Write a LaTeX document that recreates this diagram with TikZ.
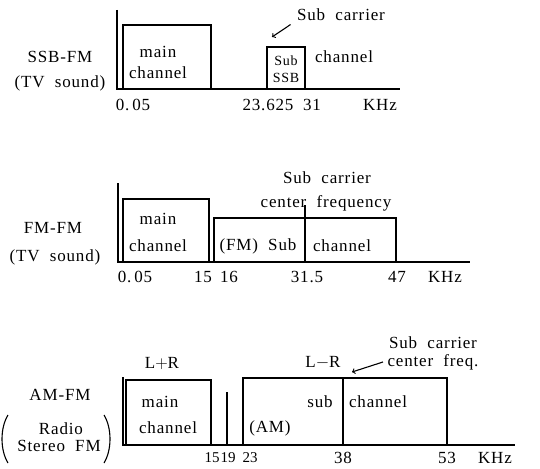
\documentclass[tikz,border=0pt]{standalone}
\usepackage{fontspec}
\setmainfont[LetterSpace=5,WordSpace=2]{Liberation Serif}
\usetikzlibrary{positioning}

\begin{document}
\begin{tikzpicture}[x=1pt,y=-1pt,line width=1.1pt,
   lbl/.style={font=\fontsize{17}{19}\selectfont,inner sep=1pt},
   sm/.style={font=\fontsize{14}{15}\selectfont,inner sep=0.5pt},
   tight/.style={font=\fontsize{15}{16}\selectfont\addfontfeatures{LetterSpace=0},inner sep=0.5pt}]
   \useasboundingbox (0,0) rectangle (540,468);

   % SSB-FM
   \draw (117,10) -- (117,89) -- (400,89);
   \draw (123,89) rectangle (211,25);
   \draw (267,89) rectangle (305,47);
   \node[lbl] (n1) at (60,57) {SSB-FM};
   \node[lbl] (t1) at (60,83) {(TV sound)};
   \node[lbl] (m1) at (158,52) {main};
   \node[lbl] (c1) at (158,73) {channel};
   \node[sm] (s1) at (286,61) {Sub};
   \node[sm] (b1) at (286,78) {SSB};
   \node[lbl] (ch1) at (344,57) {channel};
   \node[lbl] (sc1) at (341,15) {Sub carrier};
   \coordinate (a1) at (272,37);
   \draw[->] ([xshift=-5pt,yshift=-2pt]sc1.south west) -- (a1);
   \node[lbl] (f1a) at (133,105) {0.\,05};
   \node[lbl] (f1b) at (268,105) {23.625};
   \node[lbl] (f1c) at (312,105) {31};
   \node[lbl] (k1) at (380,105) {KHz};

   % FM-FM
   \draw (118,183) -- (118,262) -- (470,262);
   \draw (123,262) rectangle (209,199);
   \draw (214,262) rectangle (396,218);
   \draw (305,205) -- (305,262);
   \node[lbl] (n2) at (53,228) {FM-FM};
   \node[lbl] (t2) at (55,257) {(TV sound)};
   \node[lbl] (m2) at (158,219) {main};
   \node[lbl] (c2) at (158,246) {channel};
   \node[lbl] (s2) at (258,246) {(FM) Sub};
   \node[lbl] (ch2) at (342,246) {channel};
   \node[lbl] (sc2) at (327,178) {Sub carrier};
   \node[lbl] (cf2) at (326,203) {center frequency};
   \node[lbl] (f2a) at (135,277) {0.\,05};
   \node[lbl] (f2b) at (203,277) {15};
   \node[lbl] (f2c) at (229,277) {16};
   \node[lbl] (f2d) at (307,277) {31.5};
   \node[lbl] (f2e) at (397,277) {47};
   \node[lbl] (k2) at (445,277) {KHz};

   % AM-FM
   \draw (123,377) -- (123,445) -- (515,445);
   \draw (126,445) rectangle (211,380);
   \draw (227,445) -- (227,392);
   \draw (243,445) rectangle (447,378);
   \draw (343,378) -- (343,445);
   \node[lbl] (n3) at (60,395) {AM-FM};
   \node[lbl] (r3) at (61,429) {Radio};
   \node[lbl] (t3) at (59,446) {Stereo FM};
   \draw (8,415) .. controls (0,428) and (0,450) .. (8,463);
   \draw (104,415) .. controls (112,428) and (112,450) .. (104,463);
   \node[lbl] (lp) at (162,363) {L$+$R};
   \node[lbl] (lm) at (323,363) {L$-$R};
   \node[lbl] (sc3) at (433,343) {Sub carrier};
   \node[lbl] (cf3) at (433,362) {center freq.};
   \coordinate (a3) at (352,372);
   \draw[->] ([xshift=-3pt]cf3.west) -- (a3);
   \node[lbl] (m3) at (160,402) {main};
   \node[lbl] (c3) at (168,428) {channel};
   \node[lbl] (s3) at (320,402) {sub};
   \node[lbl] (ch3) at (378,402) {channel};
   \node[lbl] (am3) at (270,428) {(AM)};
   \node[tight] (f3a) at (212,458) {15};
   \node[tight] (f3b) at (228,458) {19};
   \node[tight] (f3c) at (250,458) {23};
   \node[lbl] (f3d) at (343,458) {38};
   \node[lbl] (f3e) at (447,458) {53};
   \node[lbl] (k3) at (495,458) {KHz};
\end{tikzpicture}
\end{document}
